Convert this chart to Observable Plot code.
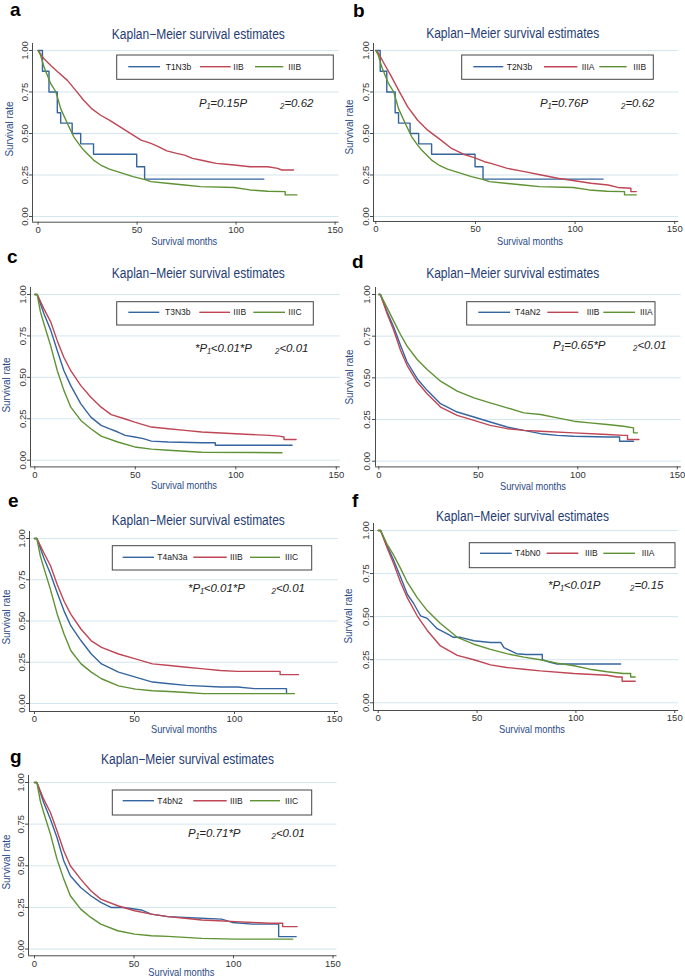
<!DOCTYPE html>
<html><head><meta charset="utf-8">
<script src="https://cdn.jsdelivr.net/npm/d3@7"></script>
<script src="https://cdn.jsdelivr.net/npm/@observablehq/plot@0.6"></script>
<style>
body{margin:0;background:#fff;}
#root{position:relative;width:685px;height:978px;overflow:hidden;font-family:"Liberation Sans",Arial,sans-serif;background:#fff;}
#root svg.panel{position:absolute;}
#overlay{position:absolute;left:0;top:0;pointer-events:none;}
</style></head><body><div id="root"></div>
<script>
// ---------- data ----------
const xTicks = [0, 50, 100, 150];
const yTicks = [0, 0.25, 0.5, 0.75, 1];
const panelLetters = ["a","b","c","d","e","f","g"];
const titleText = "Kaplan−Meier survival estimates";
const xLabel = "Survival months";
const yLabel = "Survival rate";
const seriesLabels = [
  ["T1N3b","IIB","IIIB"],
  ["T2N3b","IIIA","IIIB"],
  ["T3N3b","IIIB","IIIC"],
  ["T4aN2","IIIB","IIIA"],
  ["T4aN3a","IIIB","IIIC"],
  ["T4bN0","IIIB","IIIA"],
  ["T4bN2","IIIB","IIIC"]
];
const pValues = [
  ["P₁=0.15P","₂=0.62"],
  ["P₁=0.76P","₂=0.62"],
  ["*P₁<0.01*P","₂<0.01"],
  ["P₁=0.65*P","₂<0.01"],
  ["*P₁<0.01*P","₂<0.01"],
  ["*P₁<0.01P","₂=0.15"],
  ["P₁=0.71*P","₂<0.01"]
];
const seriesColors = ["#35659f", "#bf4654", "#5f9234"];

// [month, survival]
const a_T1N3b = [[0,1],[2.2,0.875],[5.5,0.75],[9.7,0.625],[11.4,0.5625],[17.2,0.5],[21.5,0.4375],[28,0.375],[49.8,0.3],[53.8,0.225],[114,0.225]];
const a_IIB = [[0,1],[3,0.95],[6.4,0.91],[10,0.87],[14.8,0.82],[19,0.76],[23,0.70],[27,0.65],[31.6,0.61],[36,0.58],[40,0.55],[44,0.52],[48,0.49],[52,0.46],[57,0.44],[61,0.42],[65,0.395],[70,0.38],[74,0.37],[78,0.35],[82,0.34],[86,0.33],[90,0.32],[95,0.315],[99,0.31],[107,0.30],[116,0.30],[121,0.29],[123,0.28],[129,0.28]];
const a_IIIB = [[0,1],[1.3,0.97],[3,0.90],[6.4,0.80],[9,0.75],[11.4,0.65],[14.8,0.56],[18,0.48],[21,0.43],[23,0.40],[28,0.34],[31.6,0.31],[36,0.285],[40,0.27],[48,0.24],[54,0.222],[57,0.21],[65,0.20],[74,0.19],[82,0.18],[99,0.175],[107,0.16],[116,0.152],[124.8,0.15],[124.8,0.13],[130.7,0.13]];

const b_T2N3b = [[0,1],[2.2,0.875],[5.5,0.75],[9.7,0.625],[11.4,0.5625],[17.2,0.5],[21.5,0.4375],[28,0.375],[49.8,0.3],[53.8,0.225],[114,0.225]];
const b_IIIA = [[0,1],[1,0.99],[4.2,0.92],[7.5,0.85],[11,0.77],[16,0.66],[21,0.58],[26,0.52],[32.7,0.46],[38,0.41],[44,0.375],[49.4,0.355],[54.5,0.33],[57.8,0.32],[66,0.29],[74.6,0.27],[83,0.25],[91.3,0.23],[99.7,0.215],[108,0.20],[116.5,0.19],[121.5,0.175],[128,0.17],[128,0.15],[130.7,0.15]];
const b_IIIB = [[0,1],[1.3,0.97],[3,0.90],[6.4,0.80],[9,0.75],[11.4,0.65],[14.8,0.56],[18,0.48],[21,0.43],[23,0.40],[28,0.34],[31.6,0.31],[36,0.285],[40,0.27],[48,0.24],[54,0.222],[57,0.21],[65,0.20],[74,0.19],[82,0.18],[99,0.175],[107,0.16],[116,0.152],[124.8,0.15],[124.8,0.13],[130.7,0.13]];

const c_T3N3b = [[0,1],[1.2,1],[4.5,0.885],[7.9,0.785],[11.2,0.66],[14.5,0.54],[17.9,0.45],[22.9,0.34],[27.9,0.26],[33,0.21],[37,0.19],[41.3,0.17],[45,0.15],[49.7,0.14],[54,0.13],[58,0.115],[66.4,0.11],[83,0.105],[89.8,0.105],[89.8,0.09],[128,0.09]];
const c_IIIB = [[0,1],[1.2,1],[4.5,0.915],[7.9,0.835],[11.2,0.72],[14.5,0.62],[17.9,0.54],[22.9,0.45],[27.9,0.38],[33,0.32],[38,0.275],[44.6,0.25],[49.7,0.23],[58,0.20],[66.4,0.19],[74.7,0.18],[83,0.17],[99.8,0.16],[116.6,0.15],[121.6,0.145],[124,0.14],[124,0.125],[130,0.125]];
const c_IIIC = [[0,1],[1.2,1],[2.8,0.895],[4.5,0.825],[7.9,0.69],[11.2,0.54],[14.5,0.42],[17.9,0.32],[22.9,0.24],[27.9,0.19],[33,0.145],[41.3,0.11],[49.7,0.08],[58,0.067],[66.4,0.06],[74.7,0.054],[83,0.048],[123,0.045]];

const d_T4aN2 = [[0,1],[0.8,1],[4.2,0.895],[7.5,0.805],[10.9,0.695],[14.2,0.595],[19.3,0.495],[24.3,0.425],[31,0.345],[39.4,0.295],[47.8,0.265],[56,0.235],[64.5,0.205],[72.9,0.185],[81.3,0.165],[89.7,0.155],[98,0.15],[114.8,0.145],[121,0.145],[121,0.12],[128,0.12]];
const d_IIIB = [[0,1],[0.8,1],[4.2,0.885],[7.5,0.785],[10.9,0.665],[14.2,0.575],[19.3,0.475],[24.3,0.405],[31,0.325],[39.4,0.275],[47.8,0.245],[56,0.215],[64.5,0.195],[72.9,0.185],[81.3,0.18],[98,0.17],[114.8,0.16],[123,0.155],[125,0.155],[125,0.13],[130.7,0.13]];
const d_IIIA = [[0,1],[0.8,1],[4.2,0.92],[7.5,0.84],[10.9,0.76],[14.2,0.69],[19.3,0.61],[24.3,0.55],[31,0.48],[39.4,0.42],[47.8,0.38],[56,0.35],[64.5,0.32],[72.9,0.29],[81.3,0.28],[89.7,0.26],[98,0.24],[106,0.23],[114.8,0.22],[123,0.21],[128,0.2],[128,0.17],[130,0.17]];

const e_T4aN3a = [[0,1],[1.2,1],[4.6,0.885],[8,0.785],[11.4,0.67],[14.8,0.56],[18.2,0.47],[23.3,0.38],[28.4,0.30],[33.5,0.24],[42,0.19],[50.5,0.16],[59,0.13],[67.5,0.12],[76,0.11],[93,0.10],[101.5,0.10],[110,0.09],[126,0.09],[126,0.06]];
const e_IIIB = [[0,1],[1.2,1],[4.6,0.915],[8,0.835],[11.4,0.72],[14.8,0.62],[18.2,0.54],[23.3,0.45],[28.4,0.38],[33.5,0.34],[42,0.30],[50.5,0.27],[59,0.24],[67.5,0.23],[76,0.22],[84.5,0.21],[93,0.20],[101.5,0.195],[122.8,0.195],[122.8,0.175],[132,0.175]];
const e_IIIC = [[0,1],[1.2,1],[2.9,0.895],[4.6,0.825],[8,0.69],[11.4,0.54],[14.8,0.42],[18.2,0.32],[23.3,0.24],[28.4,0.19],[33.5,0.15],[42,0.107],[50.5,0.087],[59,0.077],[67.5,0.073],[76,0.067],[84.5,0.06],[130,0.06]];

const f_T4bN0 = [[0,1],[1.2,1],[4.5,0.91],[7.9,0.825],[11.3,0.73],[14.7,0.63],[18,0.575],[21.4,0.505],[24.8,0.49],[29.8,0.43],[35,0.40],[38,0.38],[41.6,0.38],[48.4,0.36],[56.8,0.35],[62,0.35],[63.6,0.32],[70,0.285],[75,0.28],[83,0.28],[83,0.25],[87,0.235],[90.5,0.225],[122.6,0.225]];
const f_IIIB = [[0,1],[1.2,1],[4.5,0.90],[7.9,0.805],[11.3,0.70],[14.7,0.61],[19.7,0.505],[24.8,0.42],[31.5,0.33],[40,0.275],[48.4,0.25],[56.8,0.22],[65,0.205],[73.7,0.195],[82,0.185],[99,0.17],[115.8,0.16],[121,0.15],[123.4,0.15],[123.4,0.125],[130,0.125]];
const f_IIIA = [[0,1],[1.2,1],[4.5,0.92],[7.9,0.855],[11.3,0.78],[14.7,0.70],[19.7,0.61],[24.8,0.535],[31.5,0.46],[40,0.38],[48.4,0.34],[56.8,0.31],[65,0.285],[73.7,0.265],[82,0.25],[90.5,0.23],[99,0.215],[107,0.195],[115.8,0.18],[124,0.17],[127.7,0.17],[127.7,0.15],[130,0.15]];

const g_T4bN2 = [[0,1],[1.2,1],[4.6,0.88],[8,0.78],[11.3,0.67],[14.7,0.53],[18,0.44],[23.2,0.37],[28.3,0.32],[33.3,0.28],[38.4,0.25],[45,0.25],[53.6,0.235],[58.7,0.21],[67,0.195],[75.6,0.19],[94,0.18],[99.3,0.16],[109.5,0.15],[122.7,0.15],[122.7,0.075],[131.5,0.075]];
const g_IIIB = [[0,1],[1.2,1],[4.6,0.90],[8,0.82],[11.3,0.71],[14.7,0.59],[18,0.50],[23.2,0.42],[28.3,0.35],[33.3,0.30],[41.8,0.26],[50.3,0.23],[58.7,0.21],[67,0.195],[75.6,0.185],[84,0.175],[92.5,0.17],[101,0.165],[109.5,0.16],[118,0.155],[124.7,0.155],[124.7,0.135],[132,0.135]];
const g_IIIC = [[0,1],[1.2,1],[2.9,0.89],[4.6,0.82],[8,0.69],[11.3,0.54],[14.7,0.42],[18,0.32],[23.2,0.24],[28.3,0.19],[33.3,0.15],[41.8,0.11],[50.3,0.09],[58.7,0.08],[67,0.076],[75.6,0.07],[84,0.064],[101,0.06],[129.8,0.06]];

const panelSeries = [
  [a_T1N3b, a_IIB, a_IIIB],
  [b_T2N3b, b_IIIA, b_IIIB],
  [c_T3N3b, c_IIIB, c_IIIC],
  [d_T4aN2, d_IIIB, d_IIIA],
  [e_T4aN3a, e_IIIB, e_IIIC],
  [f_T4bN0, f_IIIB, f_IIIA],
  [g_T4bN2, g_IIIB, g_IIIC]
];
// series drawn as KM steps (small groups)
const stepSeries = [a_T1N3b, b_T2N3b];

// ---------- layout (pixel geometry of each panel) ----------
const layouts = [
 {t0:37.3,t100:235.3,s1:50,s0:216,axL:31.7,axB:221.7, letter:[10,16], title:[198.3,38.5], xlab:[184.2,245], ylab:[13,129], p:[[199,107],[280,107]], box:[116.7,55,333.3,79.3], items:[[128.3,160,165.7],[200,230.7,233.3],[255,283.3,288.3]], ly:66.7},
 {t0:375,t100:574.3,s1:50,s0:216,axL:372.7,axB:221, letter:[353,17], title:[512.7,38], xlab:[530,245], ylab:[353,127], p:[[540,107],[621,107]], box:[461.7,55,653.3,79.3], items:[[473.3,503.3,506.7],[544,577.3,581.7],[599.3,626.7,633.3]], ly:66.7},
 {t0:34.3,t100:235.3,s1:294.3,s0:460,axL:30,axB:466.7, letter:[7,263], title:[198.3,278.3], xlab:[184,489.3], ylab:[9.5,385], p:[[195,352],[275,352]], box:[116.7,301.7,313.3,325], items:[[128.3,159.3,165],[199.3,230,233.3],[253.3,285,288.3]], ly:312.3},
 {t0:378.3,t100:577.3,s1:294.3,s0:461,axL:375,axB:466.7, letter:[352,268], title:[512.7,278.3], xlab:[533,490], ylab:[353,377], p:[[553,349],[633,349]], box:[466.7,301.7,655,325], items:[[478.3,510,515],[547.3,578.3,586.7],[603.3,635,640]], ly:312.3},
 {t0:34.3,t100:234.3,s1:537.7,s0:702.7,axL:29.3,axB:710.7, letter:[8,507], title:[198.3,525], xlab:[184,732.7], ylab:[9.5,617], p:[[188,592],[271.5,592]], box:[112.3,545.7,311.7,570], items:[[122.7,154,157.3],[193.3,226.7,230],[250,280,285]], ly:557.3},
 {t0:378,t100:575.7,s1:530,s0:702.3,axL:373.3,axB:710, letter:[352,507], title:[522.5,520.7], xlab:[532,733], ylab:[352,616], p:[[548,589],[630,589]], box:[469.3,542.7,675,567.7], items:[[480,511.7,515],[546.7,578.3,585],[603.3,635,641.7]], ly:553.3},
 {t0:34.3,t100:233.3,s1:781.7,s0:948.3,axL:28.3,axB:955, letter:[10,763], title:[187.5,764.3], xlab:[181.3,976], ylab:[9.5,862], p:[[188,837],[271.5,837]], box:[112.3,790,311.7,815], items:[[122.7,154,157.3],[193.3,226.7,230],[250,280,285]], ly:800.7}
];

const root = document.getElementById("root");
const fontFam = "'Liberation Sans', Arial, sans-serif";

layouts.forEach((L, i) => {
  const k = (L.t100 - L.t0) / 100, ky = L.s0 - L.s1;
  const axT = L.s1 - 7;
  const xMax = 152;
  const axR = L.t0 + xMax * k;
  const xd = [(L.axL - L.t0) / k, xMax];
  const yd = [(L.s0 - L.axB) / ky, (L.s0 - axT) / ky];
  const mL = 28, mR = 4, mT = 2, mB = 20;
  const w = (axR - L.axL) + mL + mR, h = (L.axB - axT) + mT + mB;
  const marks = [
    Plot.gridY(yTicks, {stroke: "#d4e6ee", strokeOpacity: 1, strokeWidth: 1}),
    Plot.ruleX([xd[0]], {stroke: "#4a4a4a", strokeWidth: 1}),
    Plot.ruleY([yd[0]], {stroke: "#4a4a4a", strokeWidth: 1}),
    Plot.axisX(xTicks, {tickSize: 3, tickPadding: 1, label: null, stroke: "#4a4a4a", fill: "#333"}),
    Plot.axisY(yTicks, {tickSize: 3, tickPadding: 2, tickRotate: -90, tickFormat: d3.format(".2f"), label: null, stroke: "#4a4a4a", fill: "#333"})
  ];
  panelSeries[i].forEach((s, j) => {
    marks.push(Plot.line(s, {x: d => d[0], y: d => d[1], stroke: seriesColors[j], strokeWidth: 1.4,
      curve: stepSeries.includes(s) ? "step-after" : "linear"}));
  });
  const svg = Plot.plot({
    width: w, height: h, marginLeft: mL, marginRight: mR, marginTop: mT, marginBottom: mB,
    x: {domain: xd}, y: {domain: yd},
    style: {background: "transparent", fontFamily: fontFam, fontSize: "9.5px", color: "#333", overflow: "visible"},
    marks
  });
  svg.classList.add("panel");
  svg.style.left = (L.axL - mL) + "px";
  svg.style.top = (axT - mT) + "px";
  root.appendChild(svg);
});

// ---------- overlay text, titles and legends ----------
const ov = d3.select(root).append("svg").attr("id", "overlay").attr("width", 685).attr("height", 978)
  .style("font-family", fontFam);

layouts.forEach((L, i) => {
  const g = ov.append("g");
  g.append("text").attr("x", L.letter[0]).attr("y", L.letter[1]).attr("font-size", 19).attr("font-weight", "bold")
    .attr("fill", "#000").text(panelLetters[i]);
  g.append("text").attr("x", L.title[0]).attr("y", L.title[1]).attr("text-anchor", "middle").attr("font-size", 14)
    .attr("fill", "#1f3d73").attr("textLength", 173).attr("lengthAdjust", "spacingAndGlyphs").text(titleText);
  g.append("text").attr("x", L.xlab[0]).attr("y", L.xlab[1]).attr("text-anchor", "middle").attr("font-size", 11)
    .attr("fill", "#2a4a86").attr("textLength", 66).attr("lengthAdjust", "spacingAndGlyphs").text(xLabel);
  g.append("text").attr("transform", `translate(${L.ylab[0]},${L.ylab[1]}) rotate(-90)`).attr("text-anchor", "middle")
    .attr("font-size", 11).attr("fill", "#2a4a86").attr("textLength", 55).attr("lengthAdjust", "spacingAndGlyphs").text(yLabel);
  pValues[i].forEach((t, j) => {
    g.append("text").attr("x", L.p[j][0]).attr("y", L.p[j][1]).attr("font-size", 11.5).attr("font-style", "italic")
      .attr("fill", "#222").text(t);
  });
  const [bx0, by0, bx1, by1] = L.box;
  g.append("rect").attr("x", bx0).attr("y", by0).attr("width", bx1 - bx0).attr("height", by1 - by0)
    .attr("fill", "#fff").attr("stroke", "#444").attr("stroke-width", 1);
  L.items.forEach((it, j) => {
    g.append("line").attr("x1", it[0]).attr("x2", it[1]).attr("y1", L.ly).attr("y2", L.ly)
      .attr("stroke", seriesColors[j]).attr("stroke-width", 1.4);
    g.append("text").attr("x", it[2]).attr("y", L.ly + 3).attr("font-size", 8.5).attr("fill", "#222").text(seriesLabels[i][j]);
  });
});
</script></body></html>
